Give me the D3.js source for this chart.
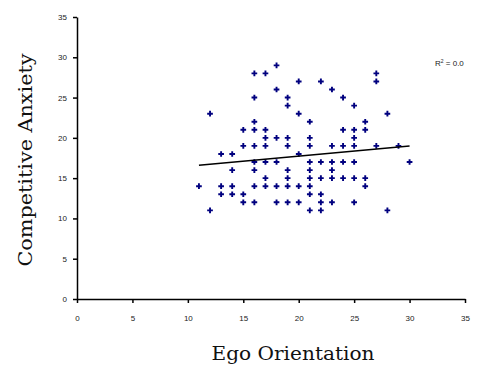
<!DOCTYPE html>
<html>
<head>
<meta charset="utf-8">
<script src="https://cdn.jsdelivr.net/npm/d3@7"></script>
<style>
  body { margin: 0; background: #fff; }
  svg { display: block; }
  .tick text { font-family: "Liberation Sans", Arial, sans-serif; font-size: 8px; fill: #222; }
</style>
</head>
<body>
<svg id="chart" width="486" height="369"></svg>
<script>
// ego orientation (x) and competitive anxiety (y), one entry per respondent
const egoScores = [
  18,
  16, 17, 27,
  20, 22, 27,
  18, 23,
  16, 19, 24,
  19, 25,
  12, 20, 28,
  16, 21, 26,
  15, 16, 17, 24, 25, 26,
  17, 18, 19, 21, 25,
  15, 16, 17, 19, 21, 23, 24, 25, 27, 29,
  13, 14, 20,
  16, 17, 18, 21, 22, 23, 24, 25, 30,
  14, 16, 19, 21, 23,
  17, 19, 21, 22, 23, 24, 25, 26,
  11, 13, 14, 16, 17, 18, 19, 20, 21, 26,
  13, 14, 15, 21, 22,
  15, 16, 18, 19, 20, 22, 23, 25,
  12, 21, 22, 28
];
const anxietyScores = [
  29,
  28, 28, 28,
  27, 27, 27,
  26, 26,
  25, 25, 25,
  24, 24,
  23, 23, 23,
  22, 22, 22,
  21, 21, 21, 21, 21, 21,
  20, 20, 20, 20, 20,
  19, 19, 19, 19, 19, 19, 19, 19, 19, 19,
  18, 18, 18,
  17, 17, 17, 17, 17, 17, 17, 17, 17,
  16, 16, 16, 16, 16,
  15, 15, 15, 15, 15, 15, 15, 15,
  14, 14, 14, 14, 14, 14, 14, 14, 14, 14,
  13, 13, 13, 13, 13,
  12, 12, 12, 12, 12, 12, 12, 12,
  11, 11, 11, 11
];

// linear trend line as drawn in the original
const trendX = [11, 30];
const trendY = [16.6, 19.0];

const xTicks = [0, 5, 10, 15, 20, 25, 30, 35];
const yTicks = [0, 5, 10, 15, 20, 25, 30, 35];

const svg = d3.select('#chart');

const xScale = d3.scaleLinear().domain([0, 35]).range([77, 465]);
const yScale = d3.scaleLinear().domain([0, 35]).range([299, 17]);

const xAxis = d3.axisBottom(xScale).tickValues(xTicks).tickSize(4).tickPadding(12).tickSizeOuter(0);
const yAxis = d3.axisLeft(yScale).tickValues(yTicks).tickSize(4).tickPadding(6).tickSizeOuter(0);

svg.append('g')
  .attr('class', 'x axis')
  .attr('transform', 'translate(0,' + yScale(0) + ')')
  .call(xAxis);

svg.append('g')
  .attr('class', 'y axis')
  .attr('transform', 'translate(' + xScale(0) + ',0)')
  .call(yAxis);

svg.selectAll('.axis path, .axis line')
  .attr('stroke', '#000')
  .attr('stroke-width', 1.5);

const points = egoScores.map((x, i) => ({ x: x, y: anxietyScores[i] }));

svg.selectAll('path.point')
  .data(points)
  .enter()
  .append('path')
  .attr('class', 'point')
  .attr('d', d3.symbol().type(d3.symbolCross).size(18))
  .attr('transform', d => 'translate(' + xScale(d.x) + ',' + yScale(d.y) + ')')
  .attr('fill', '#00007f');

const line = d3.line().x(d => xScale(d[0])).y(d => yScale(d[1]));
svg.append('path')
  .attr('d', line(d3.zip(trendX, trendY)))
  .attr('fill', 'none')
  .attr('stroke', '#000')
  .attr('stroke-width', 1.5);

const r2 = svg.append('text')
  .attr('x', 435)
  .attr('y', 66)
  .attr('font-family', '"Liberation Sans", Arial, sans-serif')
  .attr('font-size', 8)
  .attr('fill', '#222');
r2.append('tspan').text('R');
r2.append('tspan').attr('dy', -3).attr('font-size', 5).text('2');
r2.append('tspan').attr('dy', 3).text(' = 0.0');

svg.append('text')
  .attr('x', 293)
  .attr('y', 360)
  .attr('text-anchor', 'middle')
  .attr('font-family', '"DejaVu Serif", serif')
  .attr('font-size', 18)
  .attr('textLength', 163)
  .attr('lengthAdjust', 'spacingAndGlyphs')
  .attr('fill', '#111')
  .text('Ego Orientation');

svg.append('text')
  .attr('transform', 'translate(32,160) rotate(-90)')
  .attr('text-anchor', 'middle')
  .attr('font-family', '"DejaVu Serif", serif')
  .attr('font-size', 18)
  .attr('textLength', 213)
  .attr('lengthAdjust', 'spacingAndGlyphs')
  .attr('fill', '#111')
  .text('Competitive Anxiety');
</script>
</body>
</html>
